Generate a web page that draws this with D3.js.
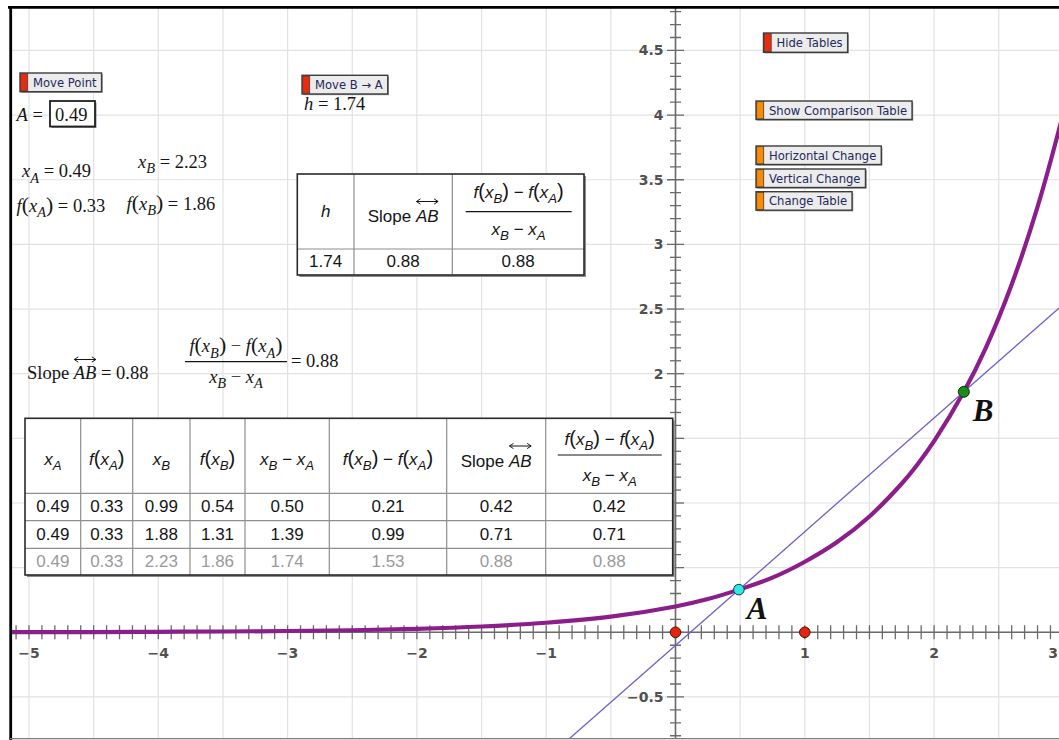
<!DOCTYPE html>
<html>
<head>
<meta charset="utf-8">
<script src="https://cdn.jsdelivr.net/npm/d3@7"></script>
<style>
  body { margin: 0; background: #fff; }
  svg { display: block; }
</style>
</head>
<body>
<svg id="sketch" width="1059" height="740"></svg>
<script>
// ---------- values ----------
const xTickValues = [-5, -4, -3, -2, -1, 1, 2, 3];
const xTickLabels = ["−5", "−4", "−3", "−2", "−1", "1", "2", "3"];
const yTickValues = [4.5, 4, 3.5, 3, 2.5, 2, -0.5];
const yTickLabels = ["4.5", "4", "3.5", "3", "2.5", "2", "−0.5"];

// sampled points of the plotted function f
const curveXs = [-5.2, -4.5, -4, -3.5, -3, -2.5, -2, -1.5, -1, -0.5, 0, 0.25, 0.49, 0.75, 0.99, 1.25, 1.5, 1.75, 1.88, 2.0, 2.23, 2.4, 2.6, 2.8, 3.0, 3.1];
const curveYs = [0.001, 0.002, 0.004, 0.006, 0.010, 0.016, 0.027, 0.045, 0.074, 0.121, 0.20, 0.257, 0.33, 0.423, 0.54, 0.698, 0.896, 1.151, 1.31, 1.478, 1.86, 2.20, 2.69, 3.29, 4.02, 4.44];

const pointA = { x: 0.49, y: 0.33 };
const pointB = { x: 2.23, y: 1.86 };
const unitPoints = [0, 1];

const hValue = 1.74;
const slopeAB = 0.88;
const quotientAB = 0.88;

// comparison table columns
const colXA = [0.49, 0.49, 0.49];
const colFXA = [0.33, 0.33, 0.33];
const colXB = [0.99, 1.88, 2.23];
const colFXB = [0.54, 1.31, 1.86];
const colDX = [0.50, 1.39, 1.74];
const colDY = [0.21, 0.99, 1.53];
const colSlope = [0.42, 0.71, 0.88];
const colQuot = [0.42, 0.71, 0.88];

// ---------- setup ----------
const svg = d3.select("#sketch");
const fmt = d3.format(".2f");
const SERIF = "'Liberation Serif', 'Times New Roman', serif";
const SANS = "'Liberation Sans', Arial, sans-serif";
const UI = "'DejaVu Sans', Verdana, sans-serif";

const X0 = 675.5, Y0 = 632.3, U = 129.3;
const x = d3.scaleLinear().domain([-5, 3]).range([X0 - 5 * U, X0 + 3 * U]);
const y = d3.scaleLinear().domain([-1, 5]).range([Y0 + U, Y0 - 5 * U]);

const frame = { x: 10.5, y: 7.5, w: 1060, h: 731 };

svg.append("defs").append("clipPath").attr("id", "win")
  .append("rect").attr("x", frame.x).attr("y", frame.y).attr("width", frame.w).attr("height", frame.h);

const plot = svg.append("g").attr("clip-path", "url(#win)");
plot.append("rect").attr("x", frame.x).attr("y", frame.y).attr("width", frame.w).attr("height", frame.h).attr("fill", "#fff");

// grid every half unit
const gridX = d3.range(-12, 7).map(d => d / 2);
const gridY = d3.range(-2, 11).map(d => d / 2);
plot.append("g").selectAll("line").data(gridX).join("line")
  .attr("x1", d => x(d)).attr("x2", d => x(d)).attr("y1", 0).attr("y2", 740)
  .attr("stroke", "#e2e2e2").attr("stroke-width", 1.2);
plot.append("g").selectAll("line").data(gridY).join("line")
  .attr("y1", d => y(d)).attr("y2", d => y(d)).attr("x1", 0).attr("x2", 1059)
  .attr("stroke", "#e2e2e2").attr("stroke-width", 1.2);

// axes
const axisColor = "#6a6a6a";
const axes = plot.append("g");
axes.append("line").attr("x1", 0).attr("x2", 1059).attr("y1", y(0)).attr("y2", y(0))
  .attr("stroke", axisColor).attr("stroke-width", 1.6);
axes.append("line").attr("x1", x(0)).attr("x2", x(0)).attr("y1", 0).attr("y2", 740)
  .attr("stroke", axisColor).attr("stroke-width", 1.6);

const xMinor = d3.range(-52, 31).map(i => i / 10);
axes.append("g").selectAll("line").data(xMinor).join("line")
  .attr("x1", d => x(d)).attr("x2", d => x(d)).attr("y1", y(0) - 7).attr("y2", y(0) + 7)
  .attr("stroke", axisColor).attr("stroke-width", 1.3);

const yMinor = d3.range(-9, 50).map(i => i / 10);
axes.append("g").selectAll("line").data(yMinor).join("line")
  .attr("y1", d => y(d)).attr("y2", d => y(d))
  .attr("x1", d => x(0) - (Math.abs(Math.round(d * 10) % 5) === 0 ? 8.5 : 5.5))
  .attr("x2", d => x(0) + (Math.abs(Math.round(d * 10) % 5) === 0 ? 8.5 : 5.5))
  .attr("stroke", axisColor).attr("stroke-width", 1.3);

// the last x label sits against the window's right edge
axes.append("g").selectAll("text").data(xTickValues).join("text")
  .attr("x", d => Math.min(x(d), 1058))
  .attr("y", y(0) + 26)
  .attr("text-anchor", d => x(d) > 1050 ? "end" : "middle")
  .attr("font-family", UI).attr("font-size", 14).attr("font-weight", "bold").attr("fill", "#505050")
  .text((d, i) => xTickLabels[i]);

axes.append("g").selectAll("text").data(yTickValues).join("text")
  .attr("x", x(0) - 12).attr("y", d => y(d) + 5)
  .attr("text-anchor", "end")
  .attr("font-family", UI).attr("font-size", 14).attr("font-weight", "bold").attr("fill", "#505050")
  .text((d, i) => yTickLabels[i]);

// function graph
const curveData = curveXs.map((v, i) => [v, curveYs[i]]);
plot.append("path").datum(curveData)
  .attr("d", d3.line().x(d => x(d[0])).y(d => y(d[1])).curve(d3.curveCatmullRom.alpha(0.5)))
  .attr("fill", "none").attr("stroke", "#8c1e8c").attr("stroke-width", 4.2)
  .attr("stroke-linecap", "round");

// secant line through A and B
const m = (pointB.y - pointA.y) / (pointB.x - pointA.x);
const secX = [-1.5, 3.5];
plot.append("line")
  .attr("x1", x(secX[0])).attr("y1", y(pointA.y + m * (secX[0] - pointA.x)))
  .attr("x2", x(secX[1])).attr("y2", y(pointA.y + m * (secX[1] - pointA.x)))
  .attr("stroke", "#6c60c8").attr("stroke-width", 1.3);

// points
plot.append("g").selectAll("circle").data(unitPoints).join("circle")
  .attr("cx", d => x(d)).attr("cy", y(0)).attr("r", 5.3)
  .attr("fill", "#e8230d").attr("stroke", "#3a1a10").attr("stroke-width", 1);
plot.append("circle").attr("cx", x(pointA.x)).attr("cy", y(pointA.y)).attr("r", 5.3)
  .attr("fill", "#2fe8e8").attr("stroke", "#1d3a3a").attr("stroke-width", 1);
plot.append("circle").attr("cx", x(pointB.x)).attr("cy", y(pointB.y)).attr("r", 5.5)
  .attr("fill", "#198c19").attr("stroke", "#103010").attr("stroke-width", 1);

const ptLabel = { family: SERIF, size: 31 };
plot.append("text").attr("x", x(pointA.x) + 8).attr("y", y(pointA.y) + 29.5)
  .attr("font-family", ptLabel.family).attr("font-size", ptLabel.size)
  .attr("font-weight", "bold").attr("font-style", "italic").attr("fill", "#111").text("A");
plot.append("text").attr("x", x(pointB.x) + 9).attr("y", y(pointB.y) + 29)
  .attr("font-family", ptLabel.family).attr("font-size", ptLabel.size)
  .attr("font-weight", "bold").attr("font-style", "italic").attr("fill", "#111").text("B");

// ---------- text helpers ----------
const S = t => ({ t });
const I = t => ({ t, i: true });
const Sub = t => ({ t, i: true, sub: true });
const P = t => ({ t, paren: true });
const xOf = k => [I("x"), Sub(k)];
const fOf = k => [I("f"), P("("), I("x"), Sub(k), P(")")];

function rich(g, x0, y0, segs, o) {
  const size = o.size;
  const t = g.append("text").attr("x", x0).attr("y", y0)
    .attr("font-family", o.family).attr("font-size", size)
    .attr("fill", o.fill || "#151515");
  let cur = 0;
  for (const s of segs) {
    const sp = t.append("tspan").text(s.t);
    if (s.i) sp.attr("font-style", "italic");
    const off = s.sub ? size * 0.3 : 0;
    if (off !== cur) { sp.attr("dy", off - cur); cur = off; }
    if (s.sub) sp.attr("font-size", size * 0.78);
    if (s.paren) sp.attr("font-size", size * 1.18);
  }
  if (o.anchor === "middle") {
    const w = t.node().getComputedTextLength();
    t.attr("x", x0 - w / 2);
  }
  return t;
}

function arrowOver(g, t, i0, i1, ay) {
  const n = t.node();
  const a = n.getStartPositionOfChar(i0).x + 0.5;
  const b = n.getEndPositionOfChar(i1).x - 0.5;
  g.append("path")
    .attr("d", `M${a},${ay}H${b}M${a + 4},${ay - 2.6}L${a},${ay}L${a + 4},${ay + 2.6}M${b - 4},${ay - 2.6}L${b},${ay}L${b - 4},${ay + 2.6}`)
    .attr("fill", "none").attr("stroke", t.attr("fill")).attr("stroke-width", 1);
}

function fraction(g, cx, num, den, o, nb, barY, db, barHalf) {
  rich(g, cx, nb, num, Object.assign({ anchor: "middle" }, o));
  g.append("line").attr("x1", cx - barHalf).attr("x2", cx + barHalf)
    .attr("y1", barY).attr("y2", barY).attr("stroke", o.fill || "#151515").attr("stroke-width", 1.2);
  rich(g, cx, db, den, Object.assign({ anchor: "middle" }, o));
}

const overlay = svg.append("g").attr("clip-path", "url(#win)");

// ---------- buttons ----------
function button(x0, y0, h, color, label) {
  const g = overlay.append("g");
  const shadow = g.append("rect");
  const box = g.append("rect");
  const swatch = g.append("rect");
  const t = g.append("text").attr("x", x0 + 13).attr("y", y0 + h / 2 + 4.3)
    .attr("font-family", UI).attr("font-size", 11.6).attr("fill", "#23295a").text(label);
  const w = t.node().getComputedTextLength() + 13 + 5;
  shadow.attr("x", x0 + 1.2).attr("y", y0 + 1.2).attr("width", w).attr("height", h).attr("fill", "#9a9a9a");
  box.attr("x", x0).attr("y", y0).attr("width", w).attr("height", h)
    .attr("fill", "#ececec").attr("stroke", "#3c3c3c").attr("stroke-width", 1.4);
  swatch.attr("x", x0 + 0.7).attr("y", y0 + 0.7).attr("width", 7).attr("height", h - 1.4)
    .attr("fill", color).attr("stroke", "#3c3c3c").attr("stroke-width", 0.8);
}
const RED = "#ee2a0c", ORANGE = "#ff8a00";
button(20, 73, 18.7, RED, "Move Point");
button(302, 75.3, 18.7, RED, "Move B → A");
button(763.5, 33, 19.3, RED, "Hide Tables");
button(756, 101, 18.5, ORANGE, "Show Comparison Table");
button(756, 146, 18.5, ORANGE, "Horizontal Change");
button(756, 169, 18.5, ORANGE, "Vertical Change");
button(756, 191.7, 18.5, ORANGE, "Change Table");

// ---------- measurements ----------
const serif = { family: SERIF, size: 18.5 };
rich(overlay, 16.5, 121, [I("A"), S(" =")], serif);
overlay.append("rect").attr("x", 51.5).attr("y", 102.5).attr("width", 45).attr("height", 25.5).attr("fill", "#8a8a8a");
overlay.append("rect").attr("x", 50).attr("y", 101).attr("width", 45).attr("height", 25.5)
  .attr("fill", "#fff").attr("stroke", "#202020").attr("stroke-width", 1.8);
rich(overlay, 55, 120.5, [S(fmt(pointA.x))], serif);

rich(overlay, 22, 177, [...xOf("A"), S(" = " + fmt(pointA.x))], serif);
rich(overlay, 138, 167.5, [...xOf("B"), S(" = " + fmt(pointB.x))], serif);
rich(overlay, 16.5, 211.5, [...fOf("A"), S(" = " + fmt(pointA.y))], serif);
rich(overlay, 126.5, 209.5, [...fOf("B"), S(" = " + fmt(pointB.y))], serif);

rich(overlay, 304, 109.5, [I("h"), S(" = " + fmt(hValue))], serif);

const slopeTxt = rich(overlay, 27, 378.5, [S("Slope "), I("AB"), S(" = " + fmt(slopeAB))], serif);
arrowOver(overlay, slopeTxt, 6, 7, 359.5);
fraction(overlay, 236, [...fOf("B"), S(" − "), ...fOf("A")], [...xOf("B"), S(" − "), ...xOf("A")],
  serif, 352, 361.7, 382.5, 51);
rich(overlay, 291, 367, [S("= " + fmt(quotientAB))], serif);

// ---------- tables ----------
const sans = { family: SANS, size: 17 };
const GREY = "#9a9a9a";

function tableFrame(cols, rows) {
  const g = overlay.append("g");
  const L = cols[0], R = cols[cols.length - 1], T = rows[0], B = rows[rows.length - 1];
  g.append("rect").attr("x", L + 2).attr("y", T + 2).attr("width", R - L).attr("height", B - T).attr("fill", "#8c8c8c");
  g.append("rect").attr("x", L).attr("y", T).attr("width", R - L).attr("height", B - T).attr("fill", "#fff");
  g.append("g").selectAll("line").data(cols.slice(1, -1)).join("line")
    .attr("x1", d => d).attr("x2", d => d).attr("y1", T).attr("y2", B)
    .attr("stroke", "#8e8e8e").attr("stroke-width", 1.2);
  g.append("g").selectAll("line").data(rows.slice(1, -1)).join("line")
    .attr("y1", d => d).attr("y2", d => d).attr("x1", L).attr("x2", R)
    .attr("stroke", "#8e8e8e").attr("stroke-width", 1.2);
  g.append("rect").attr("x", L).attr("y", T).attr("width", R - L).attr("height", B - T)
    .attr("fill", "none").attr("stroke", "#2a2a2a").attr("stroke-width", 1.6);
  return g;
}

// summary table
const sCols = [297.3, 354, 452.3, 584];
const sRows = [174, 249, 275];
const sg = tableFrame(sCols, sRows);
const sMid = i => (sCols[i] + sCols[i + 1]) / 2;
rich(sg, sMid(0), 216.7, [I("h")], Object.assign({ anchor: "middle" }, sans));
const sSlope = rich(sg, sMid(1), 221.7, [S("Slope "), I("AB")], Object.assign({ anchor: "middle" }, sans));
arrowOver(sg, sSlope, 6, 7, 201.5);
fraction(sg, sMid(2) + 0.5, [...fOf("B"), S(" − "), ...fOf("A")], [...xOf("B"), S(" − "), ...xOf("A")],
  sans, 198, 211.7, 235, 53);
[hValue, slopeAB, quotientAB].forEach((v, i) => {
  rich(sg, sMid(i), 266.7, [S(fmt(v))], Object.assign({ anchor: "middle" }, sans));
});

// comparison table
const bCols = [25, 80.7, 132.7, 190, 245, 329.3, 446.7, 545.7, 672.7];
const bRows = [418.3, 493.3, 520.7, 548.3, 575];
const bg = tableFrame(bCols, bRows);
const bMid = i => (bCols[i] + bCols[i + 1]) / 2;
const headers = [
  xOf("A"), fOf("A"), xOf("B"), fOf("B"),
  [...xOf("B"), S(" − "), ...xOf("A")],
  [...fOf("B"), S(" − "), ...fOf("A")]
];
headers.forEach((h, i) => rich(bg, bMid(i), 465, h, Object.assign({ anchor: "middle" }, sans)));
const bSlope = rich(bg, bMid(6), 466.7, [S("Slope "), I("AB")], Object.assign({ anchor: "middle" }, sans));
arrowOver(bg, bSlope, 6, 7, 446);
fraction(bg, bMid(7) + 0.5, [...fOf("B"), S(" − "), ...fOf("A")], [...xOf("B"), S(" − "), ...xOf("A")],
  sans, 445, 455, 480.5, 52);

const columns = [colXA, colFXA, colXB, colFXB, colDX, colDY, colSlope, colQuot];
columns.forEach((col, ci) => {
  col.forEach((v, ri) => {
    rich(bg, bMid(ci), bRows[ri + 2] - 8.5, [S(fmt(v))],
      Object.assign({ anchor: "middle", fill: ri === 2 ? GREY : "#151515" }, sans));
  });
});

// ---------- window frame ----------
svg.append("line").attr("x1", 8).attr("x2", 1059).attr("y1", 7.3).attr("y2", 7.3)
  .attr("stroke", "#000").attr("stroke-width", 2.8);
svg.append("line").attr("x1", 10.7).attr("x2", 10.7).attr("y1", 6).attr("y2", 740)
  .attr("stroke", "#000").attr("stroke-width", 2.8);
svg.append("line").attr("x1", 10).attr("x2", 1059).attr("y1", 738.7).attr("y2", 738.7)
  .attr("stroke", "#7a7a7a").attr("stroke-width", 1.2);
</script>
</body>
</html>
